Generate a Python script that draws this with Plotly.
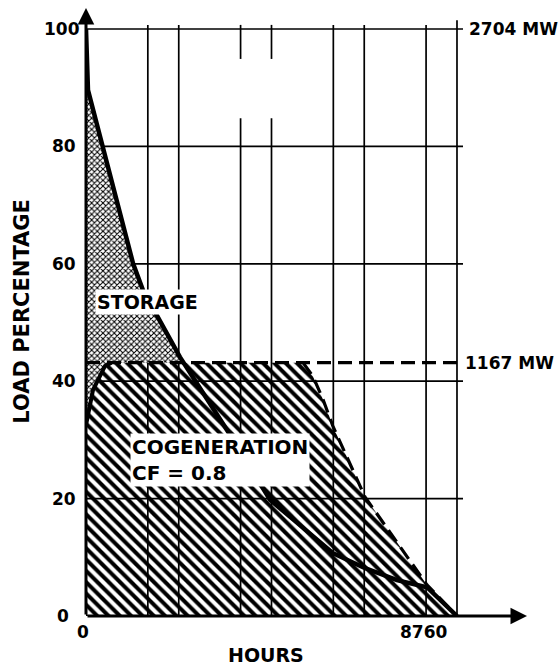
import plotly.graph_objects as go

# Annual load duration curve (percent of peak load vs. hours of the year)
load_hours = [0, 47, 1110, 1346, 2219, 3329, 4345, 5832, 6540, 7342, 8051, 8760]
load_pct = [100, 89.6, 60.1, 55.5, 44.1, 31.7, 19.8, 10.7, 8.3, 6.1, 4.9, 0]

# Cogeneration output profile (rise, flat at capacity, tail-off)
peak_mw = 2704
cogen_mw = 1167
cogen_level = 100 * cogen_mw / peak_mw
cogen_hours = [0, 165, 449, 600, 5124, 5360, 5596, 5832, 6587, 8051, 8760]
cogen_pct = [32.5, 38.5, 42.6, cogen_level, cogen_level, 40.8, 36.9, 32.3, 20.3, 5.3, 0]

y_ticks = [0, 20, 40, 60, 80, 100]
x_tick_labels = ["0", "8760"]
month_grid = [1460, 2190, 3650, 4380, 5840, 6570, 8030, 8760]

FONT = "DejaVu Sans"
X_MAX = 10720
Y_MAX = 104.09

fig = go.Figure()

# Cogeneration area (hatched)
hx = cogen_hours + [0]
hy = cogen_pct + [0]
fig.add_trace(go.Scatter(
    x=hx, y=hy, mode="lines", line=dict(width=0, color="black"),
    fill="toself", fillcolor="white",
    fillpattern=dict(shape="\\", size=8, solidity=0.5, fgcolor="black",
                     bgcolor="white", fgopacity=1),
    hoverinfo="skip", cliponaxis=False))

# Grid lines
gx, gy = [], []
for h in month_grid:
    top = 101.5 if h == 8760 else 100.7
    if h in (3650, 4380):
        gx += [h, h, None, h, h, None]
        gy += [0, 84.8, None, 94.9, top, None]
    else:
        gx += [h, h, None]
        gy += [0, top, None]
for v in y_ticks[1:]:
    gx += [0, 8902, None]
    gy += [v, v, None]
fig.add_trace(go.Scatter(x=gx, y=gy, mode="lines",
                         line=dict(color="black", width=1.7), hoverinfo="skip"))

# Storage area: load above the cogeneration profile (stippled)
k = next(i for i, v in enumerate(load_pct) if v < cogen_level)
x0, y0, x1, y1 = load_hours[k - 1], load_pct[k - 1], load_hours[k], load_pct[k]
cross_x = x0 + (y0 - cogen_level) / (y0 - y1) * (x1 - x0)
sx = load_hours[:k] + [cross_x] + cogen_hours[3::-1]
sy = load_pct[:k] + [cogen_level] + cogen_pct[3::-1]
fig.add_trace(go.Scatter(
    x=sx, y=sy, mode="lines", line=dict(width=0, color="black"),
    fill="toself", fillcolor="white",
    fillpattern=dict(shape="x", size=4, solidity=0.45, fgcolor="black",
                     bgcolor="white", fgopacity=1),
    hoverinfo="skip", cliponaxis=False))

# Cogeneration rise (solid)
fig.add_trace(go.Scatter(x=cogen_hours[:4], y=cogen_pct[:4], mode="lines",
                         line=dict(color="black", width=4), cliponaxis=False,
                         hoverinfo="skip"))
# Capacity line and tail-off (dashed)
fig.add_trace(go.Scatter(x=[0, 8760], y=[cogen_level, cogen_level], mode="lines",
                         line=dict(color="black", width=3.2, dash="14px,7px"),
                         cliponaxis=False, hoverinfo="skip"))
fig.add_trace(go.Scatter(x=cogen_hours[4:], y=cogen_pct[4:], mode="lines",
                         line=dict(color="black", width=3.2, dash="14px,7px"),
                         cliponaxis=False, hoverinfo="skip"))

# Load duration curve
fig.add_trace(go.Scatter(x=load_hours, y=load_pct, mode="lines",
                         line=dict(color="black", width=4.5), cliponaxis=False,
                         hoverinfo="skip"))

bold = dict(family=FONT, color="black", weight="bold")

annotations = [
    # axes with arrowheads
    dict(x=0, y=103.6, ax=0, ay=0, xref="x", yref="y", axref="x", ayref="y",
         text="", showarrow=True, arrowhead=2, arrowsize=1.1, arrowwidth=3,
         arrowcolor="black", standoff=0),
    dict(x=10413, y=0, ax=0, ay=0, xref="x", yref="y", axref="x", ayref="y",
         text="", showarrow=True, arrowhead=2, arrowsize=1.1, arrowwidth=3,
         arrowcolor="black", standoff=0),
    # x tick labels
    dict(x=0, y=-0.026, xref="x", yref="paper", text=x_tick_labels[0],
         showarrow=False, xanchor="center", yanchor="middle", xshift=-3,
         font=dict(size=17, **bold)),
    dict(x=8760, y=-0.026, xref="x", yref="paper", text=x_tick_labels[1],
         showarrow=False, xanchor="right", yanchor="middle", xshift=-8,
         font=dict(size=17, **bold)),
    # axis titles
    dict(x=4250, y=-0.0638, xref="x", yref="paper", text="HOURS",
         showarrow=False, xanchor="center", yanchor="middle",
         font=dict(size=19, **bold)),
    dict(x=-0.141, y=52.0, xref="paper", yref="y", text="LOAD PERCENTAGE",
         showarrow=False, textangle=-90, xanchor="center", yanchor="middle",
         font=dict(size=21, **bold)),
    # MW labels
    dict(x=8760, y=100, xref="x", yref="y", text=f"{peak_mw} MW",
         showarrow=False, xanchor="left", yanchor="middle", xshift=10,
         font=dict(size=17, **bold)),
    dict(x=8760, y=cogen_level, xref="x", yref="y", text=f"{cogen_mw} MW",
         showarrow=False, xanchor="left", yanchor="middle", xshift=6,
         font=dict(size=17, **bold)),
    # area labels
    dict(x=220, y=53.5, xref="x", yref="y", text="STORAGE",
         showarrow=False, xanchor="left", yanchor="middle", bgcolor="white",
         borderpad=1, font=dict(size=19, **bold)),
    dict(x=1039, y=26.6, xref="x", yref="y", text="COGENERATION<br>CF = 0.8",
         showarrow=False, xanchor="left", yanchor="middle", align="left",
         bgcolor="white", borderpad=1, font=dict(size=20, **bold)),
]

# y tick labels, right-aligned just left of the axis
for v in y_ticks:
    shift = {0: -15, 100: -4}.get(v, -8)
    annotations.append(dict(x=0, y=v, xref="x", yref="y", text=str(v),
                            showarrow=False, xanchor="right", yanchor="middle",
                            xshift=shift, font=dict(size=17, **bold)))

fig.update_layout(
    width=558, height=666,
    margin=dict(l=86, r=18, t=5, b=50),
    paper_bgcolor="white", plot_bgcolor="white",
    showlegend=False,
    annotations=annotations,
    xaxis=dict(range=[0, X_MAX], showgrid=False, zeroline=False, showline=False,
               showticklabels=False, ticks=""),
    yaxis=dict(range=[0, Y_MAX], showgrid=False, zeroline=False, showline=False,
               showticklabels=False, ticks=""),
)

fig.write_html("out.html")
